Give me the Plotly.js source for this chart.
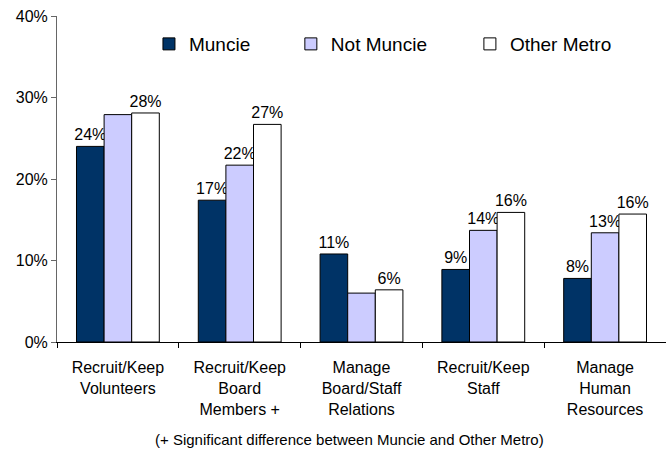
<!DOCTYPE html>
<html>
<head>
<meta charset="utf-8">
<script src="https://cdn.plot.ly/plotly-3.0.1.min.js"></script>
<style>html,body{margin:0;padding:0;background:#fff;}#chart{width:666px;height:449px;}</style>
</head>
<body>
<div id="chart"></div>
<script>
var categories = ["Recruit/Keep<br>Volunteers", "Recruit/Keep<br>Board<br>Members +", "Manage<br>Board/Staff<br>Relations", "Recruit/Keep<br>Staff", "Manage<br>Human<br>Resources"];
var muncie = [24.0, 17.4, 10.8, 8.9, 7.8];
var notMuncie = [27.9, 21.7, 6.0, 13.7, 13.4];
var otherMetro = [28.1, 26.7, 6.4, 15.9, 15.7];
var showMuncieLabel = [true, true, true, true, true];
var showNotMuncieLabel = [false, true, false, true, true];
var showOtherMetroLabel = [true, true, true, true, true];
var yTicks = [0, 10, 20, 30, 40];
var footnote = "(+ Significant difference between Muncie and Other Metro)";

var FONT = 'Liberation Sans, Arial, sans-serif';
function series(name, vals, shows, color, legendId) {
  return {
    type: 'bar', name: name, x: categories, y: vals,
    text: vals.map(function (v, i) { return shows[i] ? Math.round(v) + '%' : ''; }),
    textposition: 'outside', cliponaxis: false, constraintext: 'none',
    textfont: {family: FONT, size: 16, color: '#000'},
    marker: {color: color, line: {color: '#000', width: 1}},
    legend: legendId,
    hoverinfo: 'none'
  };
}
var data = [
  series('Muncie', muncie, showMuncieLabel, '#003366', 'legend'),
  series('Not Muncie', notMuncie, showNotMuncieLabel, '#CCCCFF', 'legend2'),
  series('Other Metro', otherMetro, showOtherMetroLabel, '#FFFFFF', 'legend3')
];
function leg(x) {
  return {orientation: 'h', x: x, y: 0.914, xanchor: 'left', yanchor: 'middle',
    font: {family: FONT, size: 19, color: '#000'}, bgcolor: 'rgba(0,0,0,0)', borderwidth: 0};
}
var layout = {
  width: 666, height: 449,
  margin: {l: 57, r: 0, t: 16, b: 107},
  paper_bgcolor: '#fff', plot_bgcolor: '#fff',
  font: {family: FONT, color: '#000'},
  barmode: 'group', bargap: 0.32, bargroupgap: 0,
  showlegend: true,
  legend: leg(0.151),
  legend2: leg(0.384),
  legend3: leg(0.678),
  xaxis: {showline: true, linecolor: '#000', linewidth: 1, ticks: 'outside', tickson: 'boundaries',
    ticklen: 5, tickcolor: '#000', showgrid: false, zeroline: false, ticklabelstandoff: 11,
    tickfont: {family: FONT, size: 16, color: '#000'}, fixedrange: true},
  yaxis: {range: [0, 40], tickvals: yTicks, ticktext: yTicks.map(function (v) { return v + '%'; }),
    showline: true, linecolor: '#666', linewidth: 1, ticks: 'outside', ticklen: 5, tickcolor: '#666',
    showgrid: false, zeroline: false, tickfont: {family: FONT, size: 16, color: '#000'}, fixedrange: true},
  annotations: [{text: footnote, xref: 'paper', yref: 'paper', x: 0.481, y: -0.30,
    xanchor: 'center', yanchor: 'middle', showarrow: false, font: {family: FONT, size: 15, color: '#000'}}]
};
Plotly.newPlot('chart', data, layout, {displayModeBar: false, staticPlot: true});
</script>
</body>
</html>
